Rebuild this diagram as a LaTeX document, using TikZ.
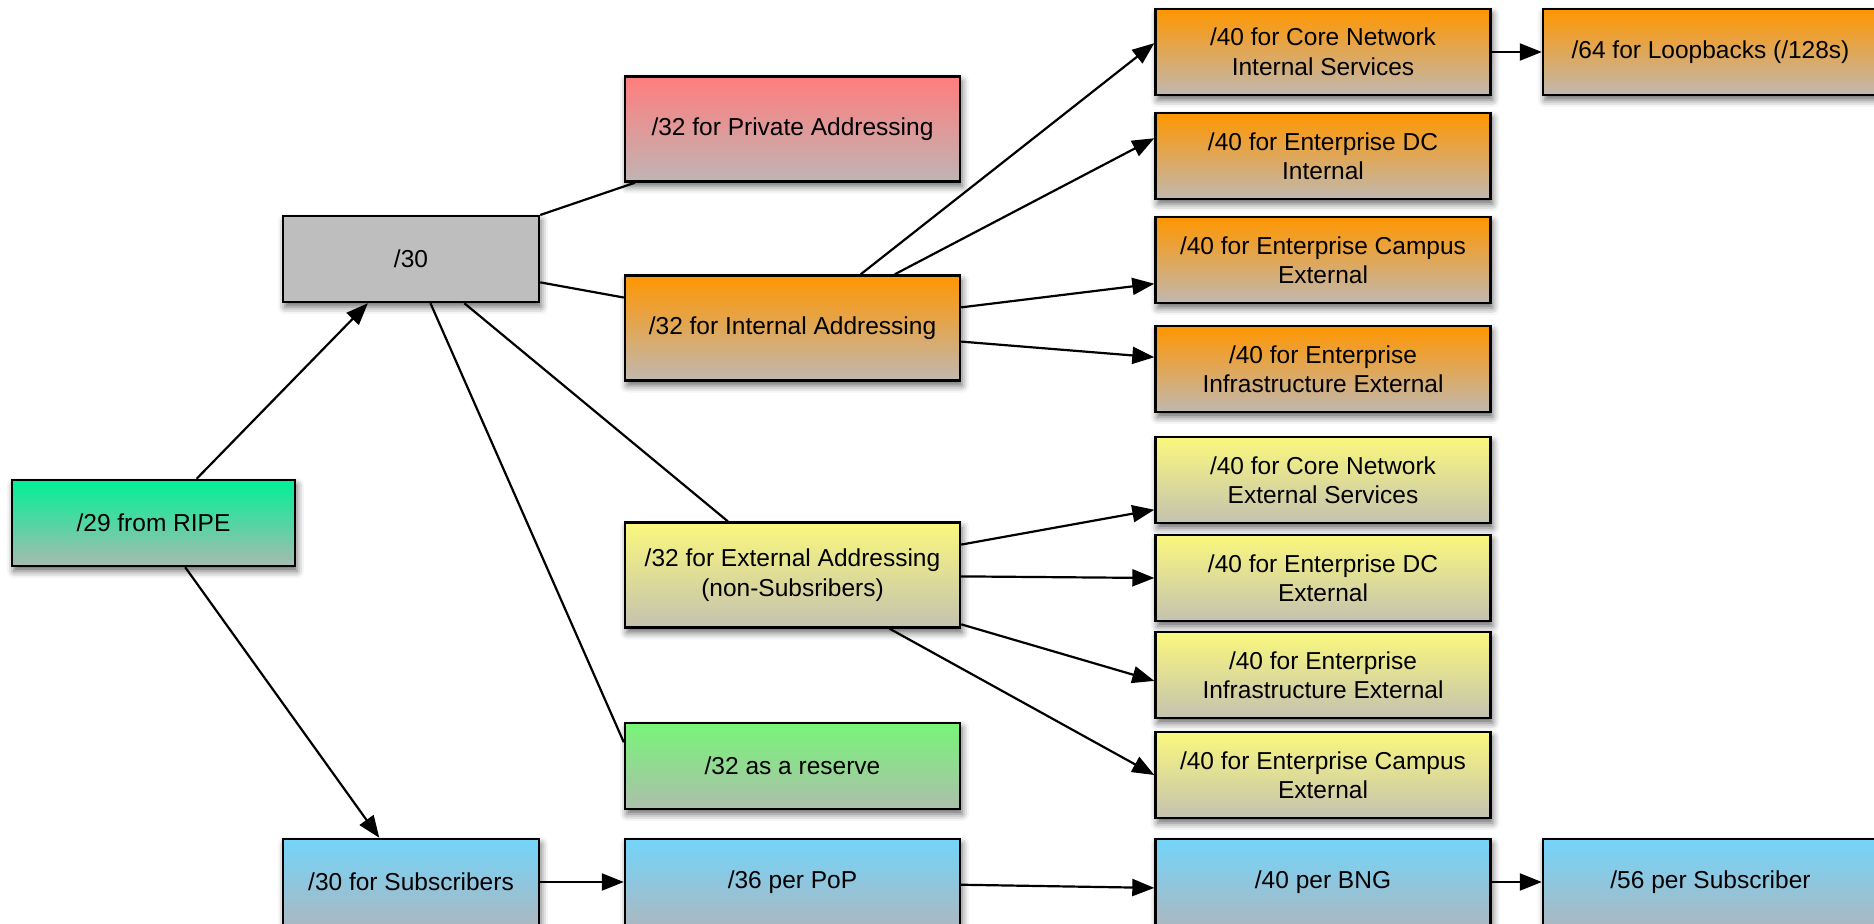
\documentclass[tikz,border=0pt]{standalone}
\usepackage{fontspec}
\setmainfont{Liberation Sans}
\usepackage{tikz}
\usetikzlibrary{arrows.meta}
\usetikzlibrary{shadows.blur}
\usepackage{xcolor}
\definecolor{ripetop}{RGB}{0,240,150}
\definecolor{ripebot}{RGB}{168,186,176}
\definecolor{privtop}{RGB}{255,125,125}
\definecolor{privbot}{RGB}{192,180,180}
\definecolor{orgtop}{RGB}{255,150,0}
\definecolor{orgbot}{RGB}{192,184,176}
\definecolor{ylwtop}{RGB}{250,248,125}
\definecolor{ylwbot}{RGB}{196,194,176}
\definecolor{restop}{RGB}{120,245,120}
\definecolor{resbot}{RGB}{172,190,172}
\definecolor{subtop}{RGB}{115,212,250}
\definecolor{subbot}{RGB}{170,184,194}
\definecolor{midgray}{RGB}{190,190,190}
\tikzset{blk/.style={draw=black, line width=1.2pt, rectangle, align=center, text=black,
  font=\fontsize{12.25pt}{14.75pt}\selectfont, minimum height=43pt,
  blur shadow={shadow xshift=1pt, shadow yshift=-2.5pt, shadow blur radius=3.5pt, shadow opacity=60}}}
\tikzset{wide/.style={blk, minimum width=167.5pt}}
\tikzset{tall/.style={wide, minimum height=52.5pt}}
\tikzset{narrow/.style={blk, minimum width=128pt}}
\tikzset{ripefill/.style={top color=ripetop, bottom color=ripebot}}
\tikzset{privfill/.style={top color=privtop, bottom color=privbot}}
\tikzset{orgfill/.style={top color=orgtop, bottom color=orgbot}}
\tikzset{ylwfill/.style={top color=ylwtop, bottom color=ylwbot}}
\tikzset{resfill/.style={top color=restop, bottom color=resbot}}
\tikzset{subfill/.style={top color=subtop, bottom color=subbot}}
\tikzset{link/.style={draw=black, line width=1.1pt}}
\tikzset{feed/.style={link, -{Triangle[length=11pt, width=8.5pt]}}}

\begin{document}
\begin{tikzpicture}[x=0.5pt, y=-0.5pt]
  \useasboundingbox (0,0) rectangle (1874,924);
  \clip (0,0) rectangle (1874,924);
  % left side
  \node[blk, minimum width=141.5pt, ripefill] (ripe) at (153.5,523) {/29 from RIPE};
  \node[narrow, fill=midgray] (slash30) at (411,259) {/30};
  \node[narrow, subfill] (subs) at (411,882) {/30 for Subscribers};
  % /32 column
  \node[tall, privfill] (private) at (792.5,129) {/32 for Private Addressing};
  \node[tall, orgfill] (internal) at (792.5,328) {/32 for Internal Addressing};
  \node[tall, ylwfill] (external) at (792.5,575) {/32 for External Addressing\\(non-Subsribers)};
  \node[wide, resfill] (reserve) at (792.5,766) {/32 as a reserve};
  \node[wide, subfill] (pop) at (792.5,882) {/36 per PoP};
  % /40 column
  \node[wide, orgfill] (coreint) at (1323,52) {/40 for Core Network\\Internal Services};
  \node[wide, orgfill] (dcint) at (1323,156) {/40 for Enterprise DC\\Internal};
  \node[wide, orgfill] (campusint) at (1323,260) {/40 for Enterprise Campus\\External};
  \node[wide, orgfill] (infraint) at (1323,369) {/40 for Enterprise\\Infrastructure External};
  \node[wide, ylwfill] (coreext) at (1323,480) {/40 for Core Network\\External Services};
  \node[wide, ylwfill] (dcext) at (1323,578) {/40 for Enterprise DC\\External};
  \node[wide, ylwfill] (infraext) at (1323,675) {/40 for Enterprise\\Infrastructure External};
  \node[wide, ylwfill] (campusext) at (1323,775) {/40 for Enterprise Campus\\External};
  \node[wide, subfill] (bng) at (1323,882) {/40 per BNG};
  % far right
  \node[wide, orgfill] (loop) at (1710.5,52) {/64 for Loopbacks (/128s)};
  \node[wide, subfill] (persub) at (1710.5,882) {/56 per Subscriber};

  \draw[feed] (ripe) -- (slash30);
  \draw[feed] (ripe) -- (subs);
  \draw[link] (slash30) -- (private);
  \draw[link] (slash30) -- (internal);
  \draw[link] (slash30) -- (external);
  \draw[link] (slash30) -- (reserve.172);
  \draw[feed] (internal) -- (coreint.177);
  \draw[feed] (internal) -- (dcint.174);
  \draw[feed] (internal) -- (campusint.188);
  \draw[feed] (internal) -- (infraint.176);
  \draw[feed] (external) -- (coreext.190);
  \draw[feed] (external) -- (dcext.west);
  \draw[feed] (external) -- (infraext.182);
  \draw[feed] (external) -- (campusext.west);
  \draw[feed] (coreint) -- (loop);
  \draw[feed] (subs) -- (pop);
  \draw[feed] (pop) -- (bng.182);
  \draw[feed] (bng) -- (persub);
\end{tikzpicture}
\end{document}
